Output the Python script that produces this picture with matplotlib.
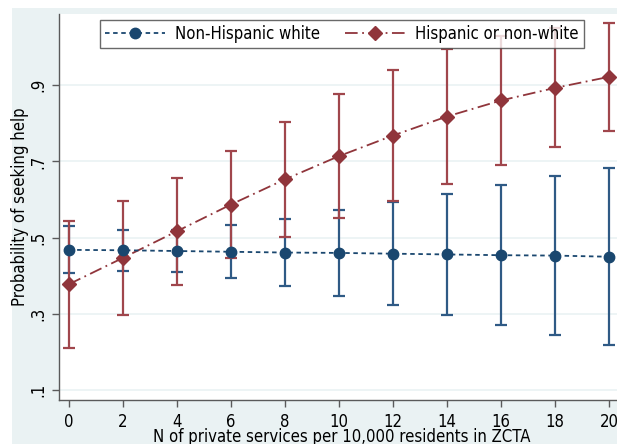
import matplotlib
matplotlib.use("Agg")
import matplotlib.pyplot as plt
from matplotlib.patches import Rectangle
import numpy as np

# predicted probabilities with 95% CIs
services = [0, 2, 4, 6, 8, 10, 12, 14, 16, 18, 20]
white_p = [0.468, 0.467, 0.465, 0.463, 0.461, 0.460, 0.458, 0.456, 0.454, 0.453, 0.450]
white_lo = [0.406, 0.413, 0.409, 0.393, 0.372, 0.348, 0.323, 0.297, 0.270, 0.244, 0.218]
white_hi = [0.530, 0.520, 0.521, 0.533, 0.550, 0.572, 0.594, 0.615, 0.638, 0.661, 0.683]
nonwhite_p = [0.378, 0.447, 0.517, 0.587, 0.653, 0.714, 0.768, 0.818, 0.860, 0.893, 0.922]
nonwhite_lo = [0.211, 0.297, 0.377, 0.447, 0.502, 0.551, 0.596, 0.642, 0.690, 0.737, 0.781]
nonwhite_hi = [0.545, 0.597, 0.657, 0.727, 0.803, 0.877, 0.941, 0.994, 1.030, 1.049, 1.063]

y_ticks = [0.1, 0.3, 0.5, 0.7, 0.9]
y_ticklabels = [".1", ".3", ".5", ".7", ".9"]

navy = "#1a476f"
maroon = "#90353b"
bg = "#eaf2f3"

plt.rcParams["font.family"] = "DejaVu Sans"
plt.rcParams["font.stretch"] = "condensed"

W, H = 617, 444
fig = plt.figure(figsize=(W / 100, H / 100), dpi=100)
fig.patch.set_facecolor("white")
fig.patches.append(Rectangle((12 / W, 0), 1, 1 - 8 / H, transform=fig.transFigure,
                             facecolor=bg, edgecolor="none", zorder=-10))

ax = fig.add_axes([59 / W, (H - 400) / H, (W - 59) / W, (400 - 14) / H])
ax.set_facecolor("white")

x = np.asarray(services)
for p, lo, hi, lc in [(white_p, white_lo, white_hi, "#2f5a85"),
                      (nonwhite_p, nonwhite_lo, nonwhite_hi, "#a0464c")]:
    p, lo, hi = map(np.asarray, (p, lo, hi))
    ax.errorbar(x, p, yerr=[p - lo, hi - p], fmt="none", ecolor=lc,
                elinewidth=1.6, capsize=4, capthick=1.6, zorder=2)

ax.plot(x, white_p, color=navy, lw=1.3, ls=(0, (2.5, 2)), marker="o", ms=7.5,
        label="Non-Hispanic white", zorder=4)
ax.plot(x, nonwhite_p, color=maroon, lw=1.3, ls=(0, (7, 2.5, 1, 2.5)), marker="D", ms=7,
        label="Hispanic or non-white", zorder=3)

ax.set_xlim(-0.37, 20.3)
ax.set_ylim(0.074, 1.087)
ax.set_xticks(services)
ax.set_yticks(y_ticks)
ax.set_yticklabels(y_ticklabels, rotation=90, va="center")
ax.grid(axis="y", color=bg, lw=1.2)
ax.set_axisbelow(True)
for s in ["top", "right"]:
    ax.spines[s].set_visible(False)
for s in ["left", "bottom"]:
    ax.spines[s].set_color("#5a5a5a")
    ax.spines[s].set_linewidth(1.0)
ax.tick_params(colors="#5a5a5a", labelcolor="black", labelsize=12, length=5, width=1)
ax.tick_params(axis="x", pad=4)

xl = ax.set_xlabel("N of private services per 10,000 residents in ZCTA", fontsize=12,
                   va="baseline")
ax.xaxis.set_label_coords(0.507, (H - 441.5 - 44) / 386)
ax.set_ylabel("Probability of seeking help", fontsize=12, labelpad=0)

leg = ax.legend(ncol=2, loc="upper left", bbox_to_anchor=(100 / W, 1 - 20 / H),
                bbox_transform=fig.transFigure, fontsize=12, frameon=True, fancybox=False,
                handlelength=3.6, columnspacing=1.5, borderpad=0.3, handletextpad=0.6,
                borderaxespad=0)
leg.get_frame().set_edgecolor("#444444")
leg.get_frame().set_linewidth(1.0)

fig.savefig("out.png", dpi=100)
